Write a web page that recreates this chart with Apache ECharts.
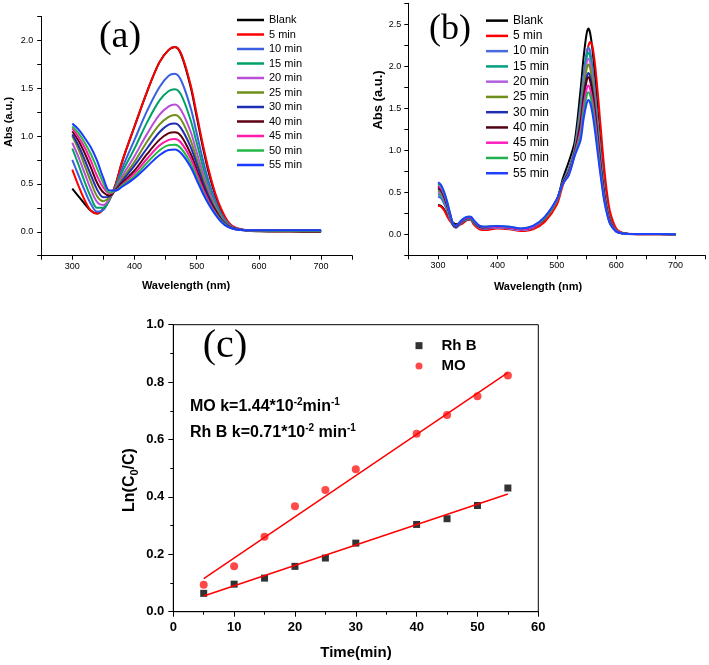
<!DOCTYPE html>
<html><head><meta charset="utf-8">
<script src="https://cdn.jsdelivr.net/npm/echarts@6/dist/echarts.min.js"></script>
<style>html,body{margin:0;padding:0;background:#fff}#c{width:709px;height:665px}</style>
</head><body><div id="c"></div>
<script>
// ---------- Panel (a): MO spectra ----------
const seriesNames = ['Blank','5 min','10 min','15 min','20 min','25 min','30 min','40 min','45 min','50 min','55 min'];
const colorsA = ['#000000','#ff0000','#3a5fe0','#00a066','#b84fd6','#6f8f1c','#1f2fb5','#5c0012','#ff1aa8','#22b845','#1a3aff'];
const colorsB = ['#000000','#ff0000','#4a68e0','#00a080','#b060e0','#6f8f1c','#2030b0','#500010','#ff20c0','#20b050','#2040ff'];
const wavelengthA = [300,310,320,330,340,350,360,370,380,400,420,440,455,465,475,490,500,510,520,530,540,550,560,580,600,650,700];
const absA_blank = [0.45,0.37,0.29,0.22,0.19,0.24,0.34,0.50,0.73,1.10,1.46,1.77,1.90,1.93,1.85,1.52,1.20,0.88,0.60,0.38,0.21,0.10,0.045,0.012,0.005,0.002,0.0];
const absA_5 = [0.65,0.48,0.33,0.22,0.19,0.24,0.34,0.50,0.73,1.10,1.46,1.77,1.90,1.93,1.86,1.54,1.23,0.91,0.63,0.40,0.23,0.11,0.05,0.015,0.008,0.005,0.005];
const absA_10 = [0.75,0.59,0.43,0.29,0.21,0.23,0.34,0.48,0.66,0.96,1.26,1.51,1.63,1.65,1.58,1.30,1.03,0.75,0.51,0.33,0.18,0.09,0.04,0.015,0.012,0.01,0.01];
const absA_15 = [0.87,0.70,0.52,0.36,0.25,0.25,0.34,0.47,0.62,0.87,1.14,1.37,1.47,1.49,1.43,1.17,0.93,0.68,0.46,0.30,0.17,0.08,0.04,0.015,0.012,0.01,0.01];
const absA_20 = [0.93,0.78,0.61,0.44,0.31,0.28,0.35,0.46,0.58,0.79,1.02,1.22,1.31,1.33,1.27,1.05,0.83,0.61,0.42,0.27,0.15,0.075,0.04,0.015,0.012,0.01,0.01];
const absA_25 = [1.00,0.86,0.69,0.52,0.37,0.32,0.36,0.45,0.55,0.73,0.94,1.12,1.20,1.22,1.17,0.96,0.76,0.56,0.38,0.25,0.14,0.07,0.035,0.015,0.012,0.01,0.01];
const absA_30 = [1.02,0.90,0.75,0.59,0.44,0.36,0.37,0.44,0.53,0.69,0.87,1.04,1.12,1.13,1.08,0.89,0.71,0.52,0.36,0.23,0.13,0.065,0.035,0.015,0.012,0.01,0.01];
const absA_40 = [1.05,0.95,0.82,0.67,0.51,0.41,0.38,0.44,0.51,0.64,0.81,0.96,1.03,1.04,1.00,0.82,0.65,0.48,0.33,0.22,0.12,0.06,0.035,0.015,0.012,0.01,0.01];
const absA_45 = [1.08,0.99,0.88,0.74,0.58,0.46,0.40,0.43,0.49,0.61,0.76,0.90,0.96,0.97,0.93,0.77,0.61,0.45,0.31,0.20,0.11,0.055,0.03,0.015,0.012,0.01,0.01];
const absA_50 = [1.10,1.03,0.93,0.81,0.66,0.51,0.41,0.43,0.48,0.58,0.72,0.85,0.905,0.91,0.87,0.72,0.57,0.42,0.29,0.19,0.11,0.055,0.03,0.015,0.012,0.01,0.01];
const absA_55 = [1.13,1.07,0.98,0.88,0.74,0.56,0.43,0.43,0.47,0.56,0.68,0.80,0.855,0.86,0.82,0.68,0.54,0.40,0.28,0.18,0.10,0.05,0.03,0.015,0.015,0.015,0.015];
const absA = [absA_blank,absA_5,absA_10,absA_15,absA_20,absA_25,absA_30,absA_40,absA_45,absA_50,absA_55];

// ---------- Panel (b): Rh B spectra ----------
const wavelengthB = [300,305,310,315,320,325,330,340,350,355,360,370,380,400,420,440,460,480,500,510,520,530,540,545,550,553,556,560,565,570,575,580,585,590,600,610,620,650,700];
const absB_blank = [0.35,0.34,0.30,0.24,0.18,0.14,0.12,0.14,0.18,0.18,0.14,0.08,0.07,0.08,0.07,0.05,0.08,0.18,0.40,0.66,0.86,1.10,1.72,2.10,2.38,2.45,2.40,2.20,1.82,1.38,0.96,0.60,0.35,0.18,0.05,0.015,0.005,0.0,0.0];
const absB_5 = [0.34,0.33,0.29,0.22,0.16,0.12,0.10,0.12,0.17,0.17,0.12,0.06,0.05,0.07,0.06,0.04,0.06,0.15,0.35,0.58,0.75,0.98,1.45,1.80,2.12,2.24,2.29,2.24,1.98,1.60,1.18,0.78,0.47,0.26,0.07,0.02,0.008,0.0,0.0];
const absB_10 = [0.45,0.43,0.37,0.29,0.19,0.11,0.08,0.14,0.18,0.18,0.14,0.08,0.07,0.08,0.07,0.05,0.08,0.19,0.40,0.62,0.78,1.02,1.55,1.90,2.16,2.22,2.18,1.99,1.65,1.25,0.87,0.54,0.32,0.16,0.045,0.013,0.005,0.003,0.002];
const absB_15 = [0.48,0.46,0.39,0.31,0.20,0.11,0.08,0.14,0.18,0.18,0.14,0.08,0.07,0.08,0.07,0.05,0.08,0.19,0.40,0.62,0.77,1.01,1.51,1.85,2.10,2.16,2.12,1.94,1.60,1.22,0.85,0.53,0.31,0.16,0.043,0.013,0.005,0.003,0.002];
const absB_20 = [0.50,0.48,0.41,0.32,0.21,0.11,0.08,0.15,0.19,0.19,0.15,0.08,0.07,0.08,0.07,0.05,0.08,0.19,0.40,0.61,0.76,1.00,1.46,1.79,2.03,2.09,2.05,1.88,1.55,1.18,0.82,0.51,0.30,0.15,0.042,0.013,0.005,0.003,0.002];
const absB_25 = [0.52,0.50,0.43,0.34,0.22,0.12,0.09,0.15,0.19,0.19,0.15,0.09,0.08,0.09,0.08,0.06,0.09,0.19,0.40,0.61,0.75,0.99,1.41,1.73,1.96,2.02,1.98,1.81,1.50,1.14,0.79,0.49,0.29,0.15,0.04,0.012,0.005,0.003,0.002];
const absB_30 = [0.54,0.52,0.45,0.35,0.23,0.12,0.09,0.15,0.19,0.19,0.15,0.09,0.08,0.09,0.08,0.06,0.09,0.20,0.41,0.61,0.74,0.97,1.34,1.65,1.86,1.92,1.88,1.72,1.43,1.08,0.75,0.47,0.27,0.14,0.038,0.012,0.005,0.003,0.002];
const absB_40 = [0.56,0.53,0.46,0.36,0.24,0.12,0.09,0.16,0.20,0.20,0.16,0.09,0.08,0.09,0.08,0.06,0.09,0.20,0.41,0.61,0.73,0.96,1.31,1.60,1.82,1.87,1.83,1.68,1.39,1.05,0.73,0.46,0.27,0.14,0.037,0.011,0.005,0.003,0.002];
const absB_45 = [0.58,0.55,0.48,0.38,0.25,0.13,0.10,0.16,0.20,0.20,0.16,0.10,0.08,0.09,0.08,0.06,0.09,0.20,0.41,0.60,0.72,0.95,1.24,1.52,1.72,1.77,1.73,1.59,1.32,1.00,0.69,0.43,0.25,0.13,0.035,0.011,0.005,0.003,0.002];
const absB_50 = [0.60,0.57,0.50,0.39,0.25,0.13,0.10,0.17,0.21,0.21,0.16,0.10,0.09,0.10,0.09,0.07,0.10,0.20,0.41,0.60,0.71,0.94,1.18,1.45,1.64,1.69,1.66,1.52,1.26,0.95,0.66,0.41,0.24,0.12,0.034,0.01,0.005,0.003,0.002];
const absB_55 = [0.62,0.59,0.51,0.40,0.26,0.13,0.10,0.17,0.21,0.21,0.17,0.10,0.09,0.10,0.09,0.07,0.10,0.21,0.42,0.60,0.70,0.93,1.12,1.37,1.55,1.60,1.57,1.44,1.19,0.90,0.63,0.39,0.23,0.12,0.032,0.01,0.005,0.003,0.002];
const absB = [absB_blank,absB_5,absB_10,absB_15,absB_20,absB_25,absB_30,absB_40,absB_45,absB_50,absB_55];

// ---------- Panel (c): kinetics ----------
const timeC = [5,10,15,20,25,30,40,45,50,55];
const lnRhB = [0.064,0.096,0.117,0.158,0.187,0.239,0.304,0.324,0.370,0.431];
const lnMO = [0.094,0.158,0.261,0.367,0.424,0.496,0.620,0.685,0.751,0.823];
const fitTime = [5,55];
const fitMO = [0.115,0.833];
const fitRhB = [0.055,0.410];

const SANS = 'Arial, "Liberation Sans", sans-serif';
const SERIF = '"Times New Roman", "Liberation Serif", serif';
const zip = (xs, ys) => xs.map((x, i) => [x, ys[i]]);
const namesB = seriesNames.map(n => 'b:' + n);

const series = [];
seriesNames.forEach((n, i) => {
  series.push({type:'line', name:n, xAxisIndex:0, yAxisIndex:0, data:zip(wavelengthA, absA[i]),
    smooth:0.35, showSymbol:false, color:colorsA[i], lineStyle:{width:2, color:colorsA[i]}});
});
seriesNames.forEach((n, i) => {
  series.push({type:'line', name:namesB[i], xAxisIndex:1, yAxisIndex:1, data:zip(wavelengthB, absB[i]),
    smooth:0.3, showSymbol:false, color:colorsB[i], lineStyle:{width:2, color:colorsB[i]}});
});
series.push({type:'line', name:'fitRhB', xAxisIndex:2, yAxisIndex:2, data:zip(fitTime, fitRhB), showSymbol:false, color:'#ff0000', lineStyle:{width:1.5}});
series.push({type:'line', name:'fitMO', xAxisIndex:2, yAxisIndex:2, data:zip(fitTime, fitMO), showSymbol:false, color:'#ff0000', lineStyle:{width:1.5}});
series.push({type:'scatter', name:'Rh B', xAxisIndex:2, yAxisIndex:2, data:zip(timeC, lnRhB), symbol:'rect', symbolSize:7, itemStyle:{color:'#000'}});
series.push({type:'scatter', name:'MO', xAxisIndex:2, yAxisIndex:2, data:zip(timeC, lnMO), symbol:'circle', symbolSize:8, itemStyle:{color:'#ff1a1a'}});

const axisBase = (extra) => Object.assign({
  splitLine:{show:false},
  axisLine:{onZero:false, lineStyle:{color:'#000', width:1}},
  axisTick:{inside:false, length:4, lineStyle:{color:'#000'}},
}, extra);

const waveLabel = v => (v % 100 === 0 ? String(v) : '');
const halfLabel = v => (v >= 0 && Math.abs(v * 2 - Math.round(v * 2)) < 1e-6 ? v.toFixed(1) : '');

const option = {
  animation:false,
  backgroundColor:'#fff',
  grid:[
    {left:41.2, top:16.4, width:311, height:239.3},
    {left:408.3, top:3.3, width:297, height:252},
    {left:173.3, top:324.7, width:365, height:287, show:true, borderColor:'#000', borderWidth:1}
  ],
  xAxis:[
    axisBase({type:'value', gridIndex:0, min:250, max:750, interval:50,
      axisLabel:{formatter:waveLabel, color:'#000', fontFamily:SANS, fontSize:9, margin:6}}),
    axisBase({type:'value', gridIndex:1, min:250, max:750, interval:50,
      axisLabel:{formatter:waveLabel, color:'#000', fontFamily:SANS, fontSize:9, margin:6}}),
    axisBase({type:'value', gridIndex:2, min:0, max:60, interval:10,
      axisTick:{length:5, lineStyle:{color:'#000'}},
      minorTick:{show:true, splitNumber:2, length:3, lineStyle:{color:'#000'}},
      axisLabel:{color:'#000', fontFamily:SANS, fontSize:13, fontWeight:'bold', margin:9}})
  ],
  yAxis:[
    axisBase({type:'value', gridIndex:0, min:-0.25, max:2.25, interval:0.25,
      axisLabel:{formatter:halfLabel, color:'#000', fontFamily:SANS, fontSize:9, margin:8}}),
    axisBase({type:'value', gridIndex:1, min:-0.25, max:2.75, interval:0.25,
      axisLabel:{formatter:halfLabel, color:'#000', fontFamily:SANS, fontSize:9, margin:7}}),
    axisBase({type:'value', gridIndex:2, min:0, max:1, interval:0.2,
      axisTick:{length:5, lineStyle:{color:'#000'}},
      minorTick:{show:true, splitNumber:2, length:3, lineStyle:{color:'#000'}},
      axisLabel:{formatter:v => v.toFixed(1), color:'#000', fontFamily:SANS, fontSize:13, fontWeight:'bold', margin:9}})
  ],
  legend:[
    {data:seriesNames, orient:'vertical', left:237, top:12.75, padding:0, icon:'rect', itemWidth:27, itemHeight:2.5, itemGap:0,
      selectedMode:false, textStyle:{color:'#000', fontFamily:SANS, fontSize:11, lineHeight:14.5}},
    {data:namesB, orient:'vertical', left:486, top:13, padding:0, icon:'rect', itemWidth:22, itemHeight:2.5, itemGap:0,
      selectedMode:false, formatter:n => n.replace('b:', ''),
      textStyle:{color:'#000', fontFamily:SANS, fontSize:12, lineHeight:15.26}},
    {data:[{name:'Rh B', icon:'rect'}, {name:'MO', icon:'circle'}], orient:'vertical', left:415.5, top:335.5, padding:0,
      itemWidth:7, itemHeight:7, itemGap:0, selectedMode:false,
      textStyle:{color:'#000', fontFamily:SANS, fontSize:15, fontWeight:'bold', lineHeight:20.3, padding:[0,0,0,14]}}
  ],
  graphic:[
    {type:'text', x:120, y:37, style:{text:'(a)', font:'38px ' + SERIF, fill:'#000', align:'center', verticalAlign:'middle'}},
    {type:'text', x:450, y:30, style:{text:'(b)', font:'36px ' + SERIF, fill:'#000', align:'center', verticalAlign:'middle'}},
    {type:'text', x:225, y:346, style:{text:'(c)', font:'40px ' + SERIF, fill:'#000', align:'center', verticalAlign:'middle'}},
    {type:'text', x:8.5, y:122, rotation:Math.PI/2, style:{text:'Abs (a.u.)', font:'bold 11px ' + SANS, fill:'#000', align:'center', verticalAlign:'middle'}},
    {type:'text', x:186, y:286, style:{text:'Wavelength (nm)', font:'bold 11px ' + SANS, fill:'#000', align:'center', verticalAlign:'middle'}},
    {type:'text', x:378, y:100, rotation:Math.PI/2, style:{text:'Abs (a.u.)', font:'bold 13px ' + SANS, fill:'#000', align:'center', verticalAlign:'middle'}},
    {type:'text', x:538, y:287, style:{text:'Wavelength (nm)', font:'bold 11px ' + SANS, fill:'#000', align:'center', verticalAlign:'middle'}},
    {type:'text', x:130, y:480, rotation:Math.PI/2, style:{text:'{a|Ln(C}{b|0}{a|/C)}', align:'center', verticalAlign:'middle',
      rich:{a:{font:'bold 16px ' + SANS, fill:'#000', lineHeight:20}, b:{font:'bold 11px ' + SANS, fill:'#000', verticalAlign:'bottom', lineHeight:11}}}},
    {type:'text', x:356, y:653, style:{text:'Time(min)', font:'bold 15px ' + SANS, fill:'#000', align:'center', verticalAlign:'middle'}},
    {type:'text', x:190, y:407, style:{text:'{a|MO k=1.44*10}{s|-2}{a|min}{s|-1}', align:'left', verticalAlign:'middle',
      rich:{a:{font:'bold 16px ' + SANS, fill:'#000', lineHeight:20}, s:{font:'bold 10px ' + SANS, fill:'#000', verticalAlign:'top', lineHeight:10}}}},
    {type:'text', x:190, y:433, style:{text:'{a|Rh B k=0.71*10}{s|-2}{a| min}{s|-1}', align:'left', verticalAlign:'middle',
      rich:{a:{font:'bold 16px ' + SANS, fill:'#000', lineHeight:20}, s:{font:'bold 10px ' + SANS, fill:'#000', verticalAlign:'top', lineHeight:10}}}}
  ],
  series:series
};
const chart = echarts.init(document.getElementById('c'), null, {renderer:'canvas'});
chart.setOption(option);
</script></body></html>
